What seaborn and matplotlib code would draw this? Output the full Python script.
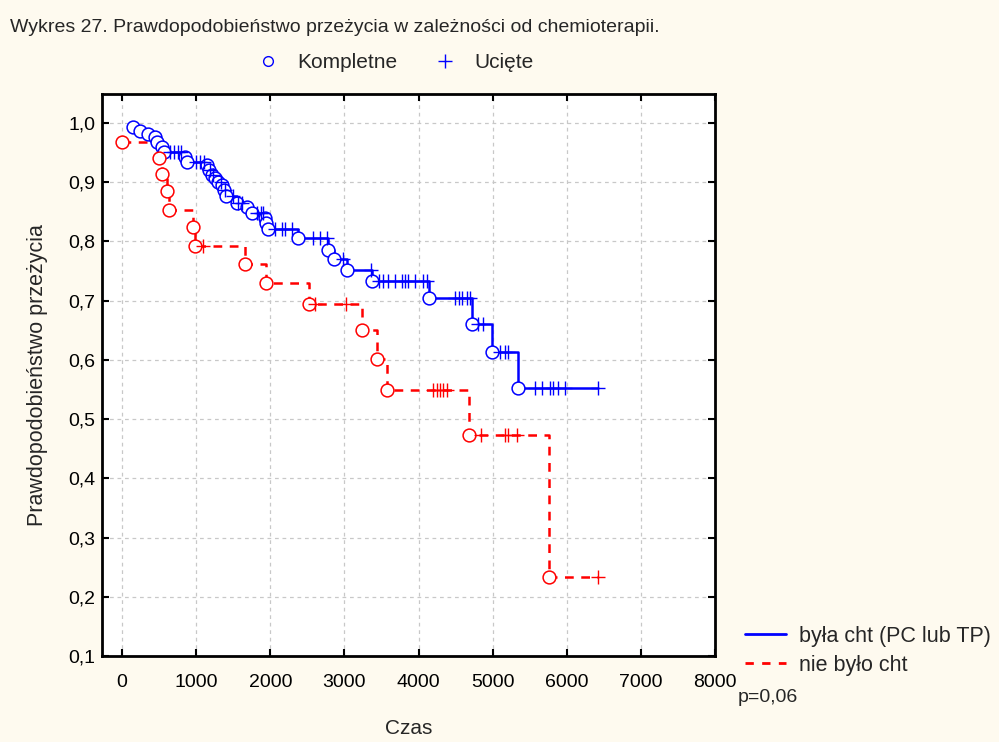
import numpy as np
import pandas as pd
import matplotlib
matplotlib.use("Agg")
import matplotlib.pyplot as plt
import seaborn as sns
from matplotlib.lines import Line2D

# ---- data ----
blue_event_t = [148, 243, 350, 445, 470, 540, 567, 850, 880, 1147, 1174, 1215, 1255, 1296,
                1350, 1377, 1403, 1552, 1687, 1754, 1930, 1943, 1970, 2375, 2780, 2860,
                3036, 3374, 4143, 4723, 4993, 5344]
blue_event_s = [0.993, 0.986, 0.981, 0.976, 0.968, 0.959, 0.951, 0.943, 0.934, 0.929, 0.921,
                0.912, 0.907, 0.900, 0.895, 0.887, 0.877, 0.865, 0.858, 0.848, 0.840, 0.831,
                0.821, 0.806, 0.785, 0.770, 0.752, 0.733, 0.704, 0.660, 0.613, 0.552]
blue_censor_t = [650, 700, 750, 800, 1000, 1050, 1100, 1190, 1230, 1330, 1390, 1500, 1560,
                 1620, 1820, 1870, 1900, 2065, 2160, 2200, 2295, 2580, 2670, 2765, 2985,
                 3360, 3470, 3525, 3590, 3685, 3780, 3820, 3860, 3955, 4060, 4115, 4490,
                 4540, 4590, 4650, 4700, 4805, 4870, 5100, 5170, 5210, 5575, 5670, 5775,
                 5815, 5885, 5980, 6420]

red_event_t = [0, 500, 540, 607, 634, 958, 985, 1660, 1943, 2524, 3239, 3441, 3576, 4683, 5762]
red_event_s = [0.968, 0.941, 0.914, 0.885, 0.853, 0.824, 0.792, 0.762, 0.730, 0.694, 0.650,
               0.601, 0.549, 0.473, 0.233]
red_censor_t = [1093, 2610, 3020, 4200, 4250, 4290, 4330, 4390, 4845, 5170, 5210, 5330, 6420]

group_names = ["była cht (PC lub TP)", "nie było cht"]
x_ticks = [0, 1000, 2000, 3000, 4000, 5000, 6000, 7000, 8000]
y_ticks = [0.1, 0.2, 0.3, 0.4, 0.5, 0.6, 0.7, 0.8, 0.9, 1.0]
title_text = "Wykres 27. Prawdopodobieństwo przeżycia w zależności od chemioterapii."
p_text = "p=0,06"


def step_value(ts, ss, t):
    idx = np.searchsorted(ts, t, side="right") - 1
    return ss[max(idx, 0)]


def build(name, et, es, ct):
    end_t = max(ct + et)
    line = pd.DataFrame({"t": et + [end_t], "s": es + [es[-1]], "grp": name})
    ev = pd.DataFrame({"t": et, "s": es, "grp": name})
    cs = pd.DataFrame({"t": ct, "s": [step_value(et, es, t) for t in ct], "grp": name})
    return line, ev, cs


bl, be, bc = build(group_names[0], blue_event_t, blue_event_s, blue_censor_t)
rl, re_, rc = build(group_names[1], red_event_t, red_event_s, red_censor_t)
lines = pd.concat([bl, rl], ignore_index=True)
events = pd.concat([be, re_], ignore_index=True)
cens = pd.concat([bc, rc], ignore_index=True)

palette = {group_names[0]: "#0000FF", group_names[1]: "#FF0000"}

sns.set_style("white")
plt.rcParams["font.family"] = ["Liberation Sans", "DejaVu Sans"]

bg = "#FEFAEF"
fig = plt.figure(figsize=(9.99, 7.42), dpi=100, facecolor=bg)
ax = fig.add_axes([102 / 999, 1 - 656 / 742, (715 - 102) / 999, (656 - 94) / 742])
ax.set_facecolor("white")

sns.lineplot(data=lines, x="t", y="s", hue="grp", style="grp", palette=palette,
             dashes={group_names[0]: "", group_names[1]: (3.5, 3.0)},
             drawstyle="steps-post", estimator=None, sort=True, linewidth=1.8,
             legend=False, ax=ax, zorder=3)
for g in group_names:
    sub = events[events.grp == g]
    sns.scatterplot(data=sub, x="t", y="s", marker="o", s=85, facecolors="white",
                    edgecolor=palette[g], linewidth=1.1, legend=False, ax=ax, zorder=4)
    subc = cens[cens.grp == g]
    sns.scatterplot(data=subc, x="t", y="s", marker="+", s=110, color=palette[g],
                    linewidth=1.0, legend=False, ax=ax, zorder=4)

ax.set_xlim(-270, 8000)
ax.set_ylim(0.1, 1.049)
ax.set_xticks(x_ticks)
ax.set_xticklabels([str(v) for v in x_ticks], fontsize=14)
ax.set_yticks(y_ticks)
ax.set_yticklabels([f"{v:.1f}".replace(".", ",") for v in y_ticks], fontsize=14)
ax.tick_params(direction="in", length=5, width=1.5, top=True, right=True,
               bottom=True, left=True, colors="black")
ax.tick_params(axis="x", pad=13)
ax.tick_params(axis="y", pad=5)
ax.grid(True, linestyle=(0, (3, 3)), color="#C8C8C8", linewidth=0.9)
ax.set_axisbelow(True)
for sp in ax.spines.values():
    sp.set_visible(True)
    sp.set_color("black")
    sp.set_linewidth(2)

ax.set_xlabel("Czas", fontsize=15, labelpad=20)
ax.set_ylabel("Prawdopodobieństwo przeżycia", fontsize=15.5, labelpad=14)

fig.text(10 / 999, 1 - 28 / 742, title_text, fontsize=14, va="center", ha="left")

# top legend: Kompletne / Ucięte
h1 = Line2D([], [], marker="o", linestyle="none", markerfacecolor="none",
            markeredgecolor="#0000FF", markersize=7, markeredgewidth=1.0)
h2 = Line2D([], [], marker="+", linestyle="none", color="#0000FF", markersize=10,
            markeredgewidth=1.0)
fig.legend([h1, h2], ["Kompletne", "Ucięte"], loc="center", ncol=2,
           bbox_to_anchor=(390 / 999, 1 - 63 / 742), frameon=False, fontsize=15,
           handletextpad=0.4, columnspacing=1.3)

# bottom-right legend
hb = Line2D([], [], color="#0000FF", linewidth=2.0)
hr = Line2D([], [], color="#FF0000", linewidth=2.0, linestyle=(0, (3.0, 3.0)))
fig.legend([hb, hr], group_names, loc="upper left",
           bbox_to_anchor=(745 / 999, 1 - 626 / 742), frameon=False, fontsize=15.5,
           handlelength=1.9, handletextpad=0.6, labelspacing=0.35, borderpad=0.0,
           borderaxespad=0.0)
fig.text(738 / 999, 1 - 697 / 742, p_text, fontsize=14, va="center", ha="left")

fig.savefig("out.png", dpi=100, facecolor=bg)
